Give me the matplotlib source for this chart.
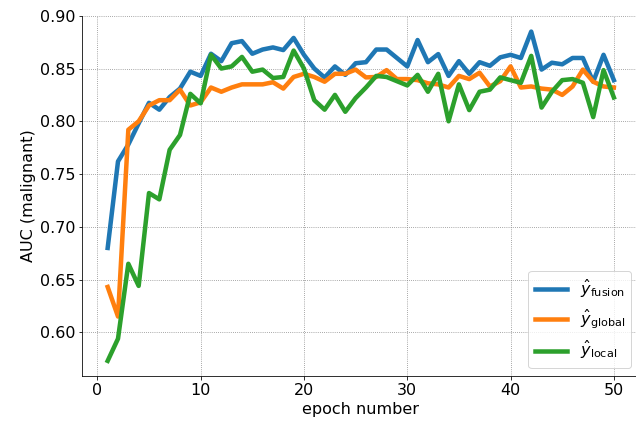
from matplotlib import pyplot as plt
import numpy as np

epochs = np.arange(1, 51)

auc_fusion = [
    0.680, 0.762, 0.778, 0.798, 0.8175, 0.811, 0.823, 0.831, 0.847, 0.843,
    0.864, 0.857, 0.874, 0.876, 0.864, 0.868, 0.870, 0.8675, 0.879, 0.863,
    0.850, 0.8415, 0.852, 0.844, 0.855, 0.856, 0.868, 0.868, 0.860, 0.852,
    0.877, 0.856, 0.8637, 0.843, 0.857, 0.845, 0.856, 0.8526, 0.8606, 0.863,
    0.860, 0.885, 0.849, 0.8555, 0.854, 0.860, 0.860, 0.8375, 0.863, 0.839,
]
auc_global = [
    0.643, 0.615, 0.792, 0.800, 0.815, 0.820, 0.820, 0.830, 0.815, 0.818,
    0.832, 0.828, 0.832, 0.835, 0.835, 0.835, 0.837, 0.831, 0.842, 0.845,
    0.842, 0.8375, 0.845, 0.845, 0.849, 0.8416, 0.842, 0.8485, 0.840, 0.840,
    0.839, 0.836, 0.835, 0.832, 0.843, 0.840, 0.846, 0.833, 0.838, 0.852,
    0.832, 0.833, 0.831, 0.830, 0.825, 0.833, 0.849, 0.8375, 0.833, 0.832,
]
auc_local = [
    0.573, 0.594, 0.665, 0.644, 0.732, 0.726, 0.773, 0.787, 0.826, 0.817,
    0.863, 0.850, 0.852, 0.861, 0.847, 0.849, 0.841, 0.842, 0.867, 0.850,
    0.820, 0.811, 0.825, 0.809, 0.822, 0.832, 0.843, 0.842, 0.838, 0.834,
    0.844, 0.828, 0.845, 0.800, 0.835, 0.8106, 0.828, 0.830, 0.8416, 0.839,
    0.8365, 0.862, 0.813, 0.828, 0.839, 0.840, 0.8365, 0.804, 0.8485, 0.8226,
]

series = {
    r"$\hat{y}_{\mathrm{fusion}}$": auc_fusion,
    r"$\hat{y}_{\mathrm{global}}$": auc_global,
    r"$\hat{y}_{\mathrm{local}}$": auc_local,
}

fs = 16

fig = plt.figure(figsize=(636 / 72, 426 / 72), dpi=72)
ax = fig.add_axes([0.1295, 0.118, 0.8755, 0.845])

for lbl, vals in series.items():
    ax.plot(epochs, vals, label=lbl, linewidth=4.5)

ax.set_xlim(-1.45, 52.45)
ax.set_ylim(0.5589, 0.90)
ax.set_xticks(np.arange(0, 51, 10))
ax.set_yticks(np.arange(0.60, 0.901, 0.05))
ax.tick_params(labelsize=fs)
ax.grid(True, linestyle=":", color="gray", linewidth=0.8)
ax.spines["top"].set_visible(False)
ax.spines["right"].set_visible(False)
ax.set_xlabel("epoch number", fontsize=fs)
ax.set_ylabel("AUC (malignant)", fontsize=fs)
ax.legend(loc="lower right", fontsize=fs)

fig.savefig("out.png", dpi=72)
